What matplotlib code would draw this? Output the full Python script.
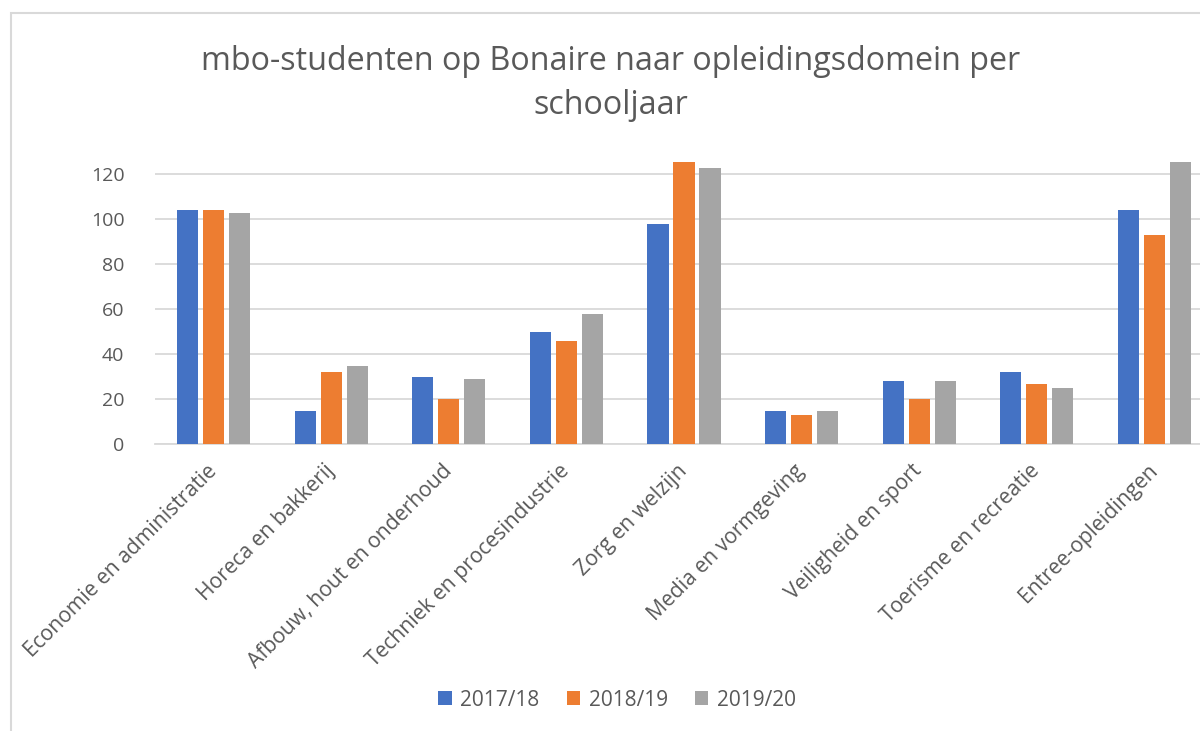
import numpy as np
import matplotlib
matplotlib.use("Agg")
import matplotlib.pyplot as plt
from matplotlib.patches import Rectangle

# === Data ===
domeinen = [
    "Economie en administratie",
    "Horeca en bakkerij",
    "Afbouw, hout en onderhoud",
    "Techniek en procesindustrie",
    "Zorg en welzijn",
    "Media en vormgeving",
    "Veiligheid en sport",
    "Toerisme en recreatie",
    "Entree-opleidingen",
]
jaren = ["2017/18", "2018/19", "2019/20"]
v_2017 = [104, 15, 30, 50, 98, 15, 28, 32, 104]
v_2018 = [104, 32, 20, 46, 126, 13, 20, 27, 93]
v_2019 = [103, 35, 29, 58, 123, 15, 28, 25, 126]
yticks = [0, 20, 40, 60, 80, 100, 120]

colors = ["#4472C4", "#ED7D31", "#A5A5A5"]
text_col = "#595959"

plt.rcParams['font.family'] = ['Open Sans', 'DejaVu Sans']

fig = plt.figure(figsize=(12, 7.31), dpi=100)
W, H = 1200, 731

# chart border (cropped on right and bottom)
fig.patches.append(Rectangle((11 / W, -0.1), 1.2, 1 - 13 / H + 0.1,
                             transform=fig.transFigure, fill=False,
                             edgecolor="#d9d9d9", linewidth=1.5))

# axes: left 155px, bottom 444px, top 162px, extends past right edge
ax = fig.add_axes([155 / W, 1 - 444.3 / H, 1058 / W, (444.3 - 162) / H])

x = np.arange(len(domeinen))
step = 0.221
bw = 0.18
for i, (vals, lab) in enumerate(zip([v_2017, v_2018, v_2019], jaren)):
    ax.bar(x + (i - 1) * step, vals, width=bw, color=colors[i], label=lab,
           zorder=3)

ax.set_xlim(-0.5, len(domeinen) - 0.5)
ax.set_ylim(0, 125.5)
ax.set_yticks(yticks)
ax.yaxis.grid(True, color="#d9d9d9", linewidth=1.3, zorder=0)
ax.set_axisbelow(True)
for s in ["top", "right", "left"]:
    ax.spines[s].set_visible(False)
ax.spines["bottom"].set_color("#d9d9d9")
ax.spines["bottom"].set_linewidth(1.3)
ax.tick_params(axis="y", length=0, pad=22, labelsize=14, labelcolor=text_col)
ax.tick_params(axis="x", length=0, pad=17, labelsize=15.2, labelcolor=text_col)
ax.set_xticks(x)
ax.set_xticklabels(domeinen, rotation=45, ha="right", va="center",
                   rotation_mode="anchor")

fig.text(611 / W, 1 - 83.5 / H,
         "mbo-studenten op Bonaire naar opleidingsdomein per\nschooljaar",
         ha="center", va="center", fontsize=23.2, color=text_col,
         linespacing=1.4)

fig.legend(loc="center", bbox_to_anchor=(617 / W, 1 - 700 / H), ncol=3,
           frameon=False, fontsize=15, labelcolor=text_col,
           handlelength=0.65, handleheight=0.65, handletextpad=0.4,
           columnspacing=1.3)

fig.savefig("out.png", dpi=100)
